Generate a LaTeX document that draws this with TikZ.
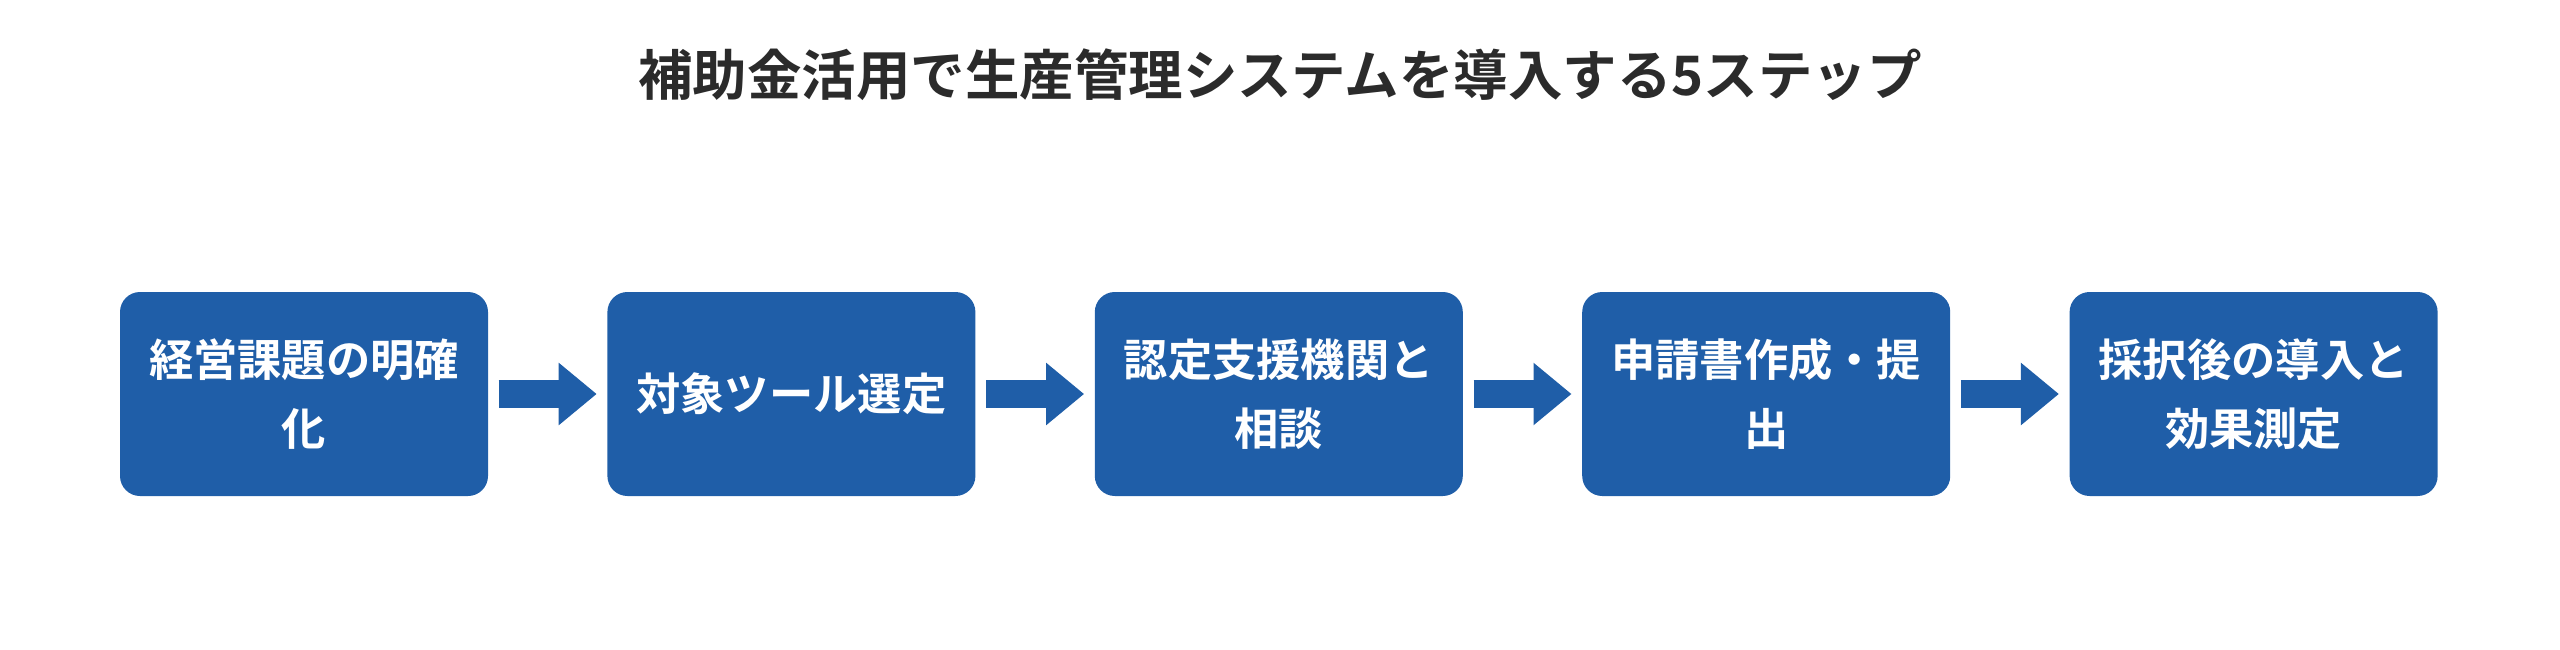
\documentclass[tikz,border=0pt]{standalone}
\usepackage{fontspec}
\newfontfamily\jpfont{Noto Sans CJK JP}[BoldFont={Noto Sans CJK JP Bold}]
\usetikzlibrary{positioning,arrows.meta}
\definecolor{stepblue}{HTML}{1F5EA8}
\definecolor{titlegray}{HTML}{2B2B2B}
\tikzset{
  stepbox/.style={fill=stepblue, rounded corners=0.2cm, minimum width=3.68cm, minimum height=2.04cm,
    inner sep=0pt, align=center, text=white, font=\jpfont\bfseries\fontsize{12.6}{19.5}\selectfont},
  flow/.style={draw=stepblue, line width=0.28cm, -{Triangle[length=0.38cm,width=0.6cm]}, shorten <=0.1cm, shorten >=0.1cm}
}
\begin{document}
\begin{tikzpicture}
  \useasboundingbox (0,0) rectangle (25.6,6.49);
  % title
  \node[text=titlegray, font=\jpfont\bfseries\fontsize{15.5}{18}\selectfont] (title) at (12.8,5.74) {補助金活用で生産管理システムを導入する5ステップ};
  % steps
  \node[stepbox] (s1) at (3.04,2.55) {経営課題の明確\\化};
  \node[stepbox, right=1.18cm of s1] (s2) {対象ツール選定};
  \node[stepbox, right=1.18cm of s2] (s3) {認定支援機関と\\相談};
  \node[stepbox, right=1.18cm of s3] (s4) {申請書作成・提\\出};
  \node[stepbox, right=1.18cm of s4] (s5) {採択後の導入と\\効果測定};
  % arrows
  \foreach \a/\b in {s1/s2, s2/s3, s3/s4, s4/s5}
    \draw[flow] (\a) -- (\b);
\end{tikzpicture}
\end{document}
